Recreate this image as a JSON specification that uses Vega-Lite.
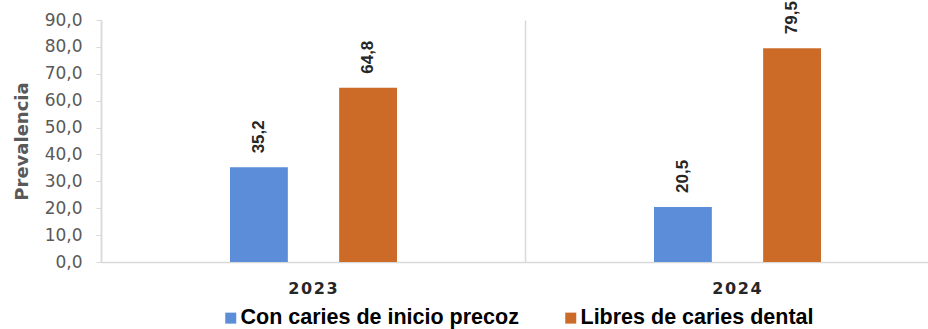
{
  "$schema": "https://vega.github.io/schema/vega-lite/v6.json",
  "width": 827,
  "height": 242,
  "autosize": {"type": "none"},
  "padding": {"left": 101, "top": 20, "right": 0, "bottom": 67},
  "background": "white",
  "data": {
    "values": [
      {"year": "2023", "serie": "Con caries de inicio precoz", "value": 35.2},
      {"year": "2023", "serie": "Libres de caries dental", "value": 64.8},
      {"year": "2024", "serie": "Con caries de inicio precoz", "value": 20.5},
      {"year": "2024", "serie": "Libres de caries dental", "value": 79.5}
    ]
  },
  "encoding": {
    "x": {
      "field": "year", "type": "nominal",
      "scale": {"range": [0, 848], "paddingInner": 0, "paddingOuter": 0},
      "axis": {
        "title": null, "labelAngle": 0, "grid": true, "bandPosition": 0,
        "gridColor": "#d9d9d9", "gridWidth": 1.5,
        "domainColor": "#d9d9d9", "domainWidth": 1.5, "ticks": false,
        "labelFont": "DejaVu Sans", "labelFontWeight": "bold", "labelFontSize": 16,
        "labelColor": "#262626", "labelPadding": 18,
        "labelExpr": "join(split(datum.label, ''), '\u200a')"
      }
    },
    "xOffset": {"field": "serie", "type": "nominal", "scale": {"range": [129, 296], "paddingInner": 0.47, "paddingOuter": 0}},
    "y": {
      "field": "value", "type": "quantitative",
      "scale": {"domain": [0, 90], "nice": false},
      "axis": {
        "title": "Prevalencia", "values": [0, 10, 20, 30, 40, 50, 60, 70, 80, 90],
        "format": ".1f", "grid": false,
        "domainColor": "#d9d9d9", "domainWidth": 1.5, "tickColor": "#d9d9d9", "tickSize": 5,
        "labelFont": "DejaVu Sans", "labelFontSize": 17, "labelColor": "#595959", "labelPadding": 14,
        "titleFont": "DejaVu Sans", "titleFontSize": 18, "titleFontWeight": "bold",
        "titleColor": "#595959", "titlePadding": 13
      }
    }
  },
  "layer": [
    {
      "mark": {"type": "bar"},
      "encoding": {
        "color": {
          "field": "serie", "type": "nominal",
          "scale": {"domain": ["Con caries de inicio precoz", "Libres de caries dental"], "range": ["#5b8dd9", "#cc6a28"]},
          "legend": {
            "title": null, "orient": "none", "direction": "horizontal",
            "legendX": 119, "legendY": 287,
            "symbolType": "square", "symbolSize": 121, "symbolStrokeWidth": 0,
            "labelFont": "Liberation Sans", "labelFontWeight": "bold", "labelFontSize": 21.5,
            "labelColor": "#000000", "columnPadding": 41, "labelOffset": -1, "labelLimit": 400
          }
        }
      }
    },
    {
      "mark": {"type": "text", "angle": 270, "align": "left", "baseline": "middle", "dx": 14,
               "font": "Liberation Sans", "fontWeight": "bold", "fontSize": 17, "color": "#262626"},
      "encoding": {
        "text": {"field": "value", "type": "quantitative", "format": ".1f"}
      }
    }
  ],
  "config": {
    "view": {"stroke": null},
    "locale": {"number": {"decimal": ",", "thousands": ".", "grouping": [3], "currency": ["", " €"]}}
  }
}
